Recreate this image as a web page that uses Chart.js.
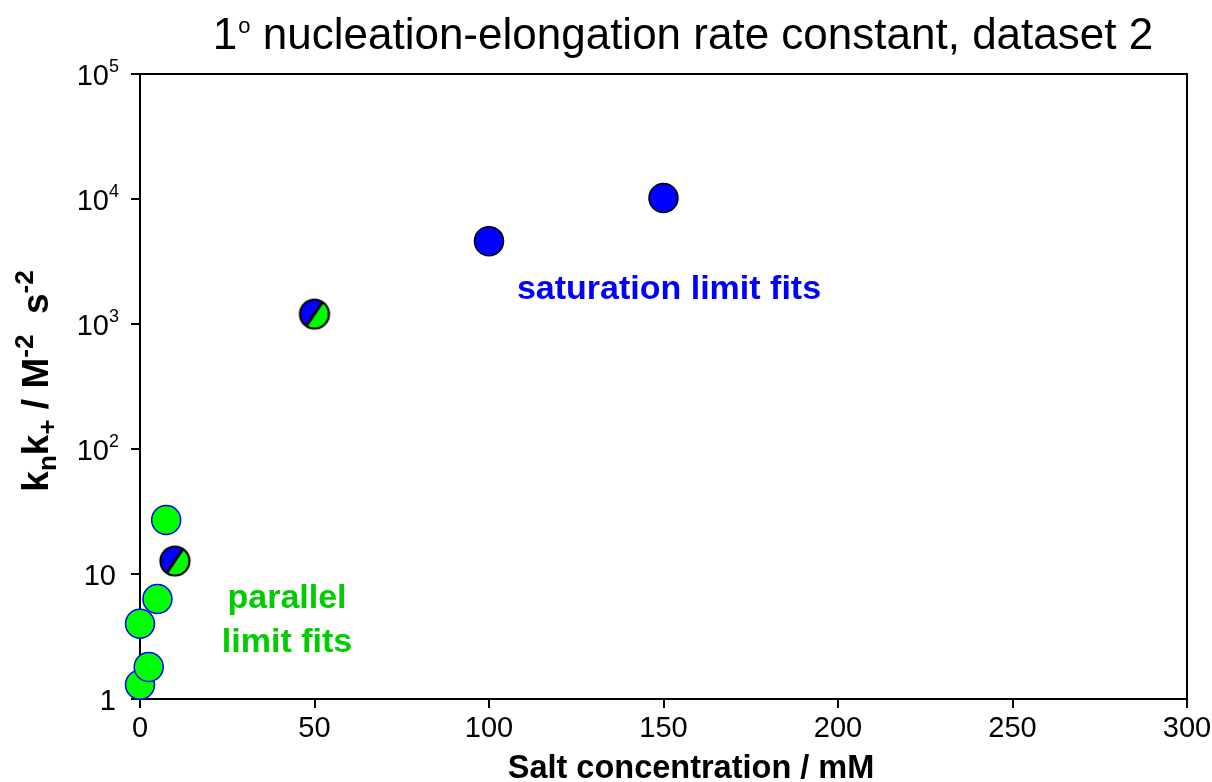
<!DOCTYPE html>
<html>
<head>
<meta charset="utf-8">
<script src="https://cdn.jsdelivr.net/npm/chart.js@4.4.1/dist/chart.umd.min.js"></script>
<style>
  html, body { margin: 0; padding: 0; background: #ffffff; }
  #wrap { width: 1212px; height: 782px; }
</style>
</head>
<body>
<div id="wrap"><canvas id="chart" width="1212" height="782"></canvas></div>
<script>
// Salt concentration (mM) and k_n k_+ (M^-2 s^-2) for each group of fits
const parallelSalt = [0, 0, 2.5, 5, 7.5];
const parallelRate = [1.3, 4.0, 1.8, 6.3, 27];
const bothSalt = [10, 50];
const bothRate = [12.7, 1200];
const saturationSalt = [100, 150];
const saturationRate = [4600, 10200];

// Axis ticks
const xTicks = [0, 50, 100, 150, 200, 250, 300];
const yTicks = [1, 10, 100, 1000, 10000, 100000];
const yTickBase = ['1', '10', '10', '10', '10', '10'];
const yTickExp = ['', '', '2', '3', '4', '5'];

// Text
const titleLead = '1';
const titleSup = 'o';
const titleRest = ' nucleation-elongation rate constant, dataset 2';
const xTitle = 'Salt concentration / mM';
const saturationNote = 'saturation limit fits';
const parallelNote = ['parallel', 'limit fits'];

const FONT = '"Liberation Sans", Arial, Helvetica, sans-serif';
const BLUE = '#0000ff';
const GREEN = '#00ff00';
const GREEN_TEXT = '#00cc00';
const R = 14.5;

// Marker for points fitted by both limits: half blue, half green, split by a diagonal
function splitMarker() {
  const size = 34, c = size / 2;
  const cv = document.createElement('canvas');
  cv.width = size; cv.height = size;
  const g = cv.getContext('2d');
  const ang = -56 * Math.PI / 180; // direction of the dividing line (towards upper right)
  g.beginPath();
  g.arc(c, c, R, ang, ang + Math.PI, true);
  g.closePath();
  g.fillStyle = BLUE; g.fill();
  g.beginPath();
  g.arc(c, c, R, ang, ang + Math.PI, false);
  g.closePath();
  g.fillStyle = GREEN; g.fill();
  g.beginPath();
  g.moveTo(c + R * Math.cos(ang), c + R * Math.sin(ang));
  g.lineTo(c - R * Math.cos(ang), c - R * Math.sin(ang));
  g.lineWidth = 2.5; g.strokeStyle = '#000'; g.stroke();
  g.beginPath();
  g.arc(c, c, R, 0, Math.PI * 2);
  g.lineWidth = 2.2; g.strokeStyle = '#000'; g.stroke();
  return cv;
}

function toPoints(xs, ys) { return xs.map((x, i) => ({ x: x, y: ys[i] })); }

// Draw a run of text pieces with their own font and vertical offset
function drawRuns(ctx, runs, x, y) {
  let cx = x;
  runs.forEach(r => {
    ctx.font = r.font;
    ctx.fillText(r.text, cx, y + (r.dy || 0));
    cx += ctx.measureText(r.text).width + (r.gap || 0);
  });
  return cx - x;
}
function runsWidth(ctx, runs) {
  let w = 0;
  runs.forEach(r => { ctx.font = r.font; w += ctx.measureText(r.text).width + (r.gap || 0); });
  return w;
}

const decorations = {
  id: 'decorations',
  afterDraw(chart) {
    const ctx = chart.ctx;
    const a = chart.chartArea;
    const xs = chart.scales.x, ys = chart.scales.y;
    ctx.save();

    // frame top and right
    ctx.strokeStyle = '#000';
    ctx.lineWidth = 2;
    ctx.beginPath();
    ctx.moveTo(a.left, a.top);
    ctx.lineTo(a.right, a.top);
    ctx.lineTo(a.right, a.bottom);
    ctx.stroke();

    ctx.fillStyle = '#000';
    ctx.textBaseline = 'alphabetic';

    // x tick labels
    ctx.font = '29px ' + FONT;
    ctx.textAlign = 'center';
    xTicks.forEach(v => ctx.fillText(String(v), xs.getPixelForValue(v), 737));

    // y tick labels with exponents
    ctx.textAlign = 'left';
    yTicks.forEach((v, i) => {
      const py = ys.getPixelForValue(v);
      const runs = [{ text: yTickBase[i], font: '29px ' + FONT }];
      let right = 116;
      if (yTickExp[i]) {
        runs.push({ text: yTickExp[i], font: '18px ' + FONT, dy: -13, gap: 1 });
        right = 120;
      }
      const w = runsWidth(ctx, runs);
      drawRuns(ctx, runs, right - w, py + 10.5);
    });

    // chart title
    const tRuns = [
      { text: titleLead, font: '44px ' + FONT, gap: 1 },
      { text: titleSup, font: '22px ' + FONT, dy: -16 },
      { text: titleRest, font: '44px ' + FONT }
    ];
    const tw = runsWidth(ctx, tRuns);
    drawRuns(ctx, tRuns, 683 - tw / 2, 49);

    // x axis title
    ctx.font = 'bold 32.5px ' + FONT;
    ctx.textAlign = 'center';
    ctx.fillText(xTitle, 691, 778);

    // y axis title, rotated
    ctx.textAlign = 'left';
    const B = 'bold 37px ' + FONT, S = 'bold 26px ' + FONT;
    const yRuns = [
      { text: 'k', font: B },
      { text: 'n', font: S, dy: 8 },
      { text: 'k', font: B },
      { text: '+', font: S, dy: 8 },
      { text: ' / M', font: B },
      { text: '-2', font: S, dy: -15 },
      { text: '  s', font: B },
      { text: '-2', font: S, dy: -15 }
    ];
    const yw = runsWidth(ctx, yRuns);
    ctx.translate(48, 381 + yw / 2);
    ctx.rotate(-Math.PI / 2);
    drawRuns(ctx, yRuns, 0, 0);
    ctx.setTransform(1, 0, 0, 1, 0, 0);

    // group notes
    ctx.font = 'bold 34px ' + FONT;
    ctx.textAlign = 'center';
    ctx.fillStyle = BLUE;
    ctx.fillText(saturationNote, 669, 299);
    ctx.fillStyle = GREEN_TEXT;
    ctx.fillText(parallelNote[0], 287, 608);
    ctx.fillText(parallelNote[1], 287, 652);

    ctx.restore();
  }
};

const split = splitMarker();

new Chart(document.getElementById('chart'), {
  type: 'scatter',
  data: {
    datasets: [
      {
        label: 'parallel limit fits',
        data: toPoints(parallelSalt, parallelRate),
        pointRadius: R, pointHoverRadius: R, clip: false,
        backgroundColor: GREEN, borderColor: BLUE, borderWidth: 1.5
      },
      {
        label: 'both limits',
        data: toPoints(bothSalt, bothRate),
        pointStyle: split, pointRadius: R, pointHoverRadius: R, clip: false
      },
      {
        label: 'saturation limit fits',
        data: toPoints(saturationSalt, saturationRate),
        pointRadius: R, pointHoverRadius: R, clip: false,
        backgroundColor: BLUE, borderColor: '#000', borderWidth: 1.5
      }
    ]
  },
  options: {
    responsive: false,
    animation: false,
    devicePixelRatio: 1,
    events: [],
    layout: { padding: { top: 74, right: 25, left: 0, bottom: 0 } },
    plugins: { legend: { display: false }, tooltip: { enabled: false }, title: { display: false } },
    scales: {
      x: {
        type: 'linear', min: 0, max: 300,
        afterBuildTicks: s => { s.ticks = xTicks.map(v => ({ value: v })); },
        afterFit: s => { s.height = 83; },
        ticks: { display: false },
        grid: { drawOnChartArea: false, drawTicks: true, tickLength: 9, color: '#000', lineWidth: 2 },
        border: { display: true, color: '#000', width: 2 }
      },
      y: {
        type: 'logarithmic', min: 1, max: 100000,
        afterBuildTicks: s => { s.ticks = yTicks.map(v => ({ value: v })); },
        afterFit: s => { s.width = 140; },
        ticks: { display: false },
        grid: { drawOnChartArea: false, drawTicks: true, tickLength: 9, color: '#000', lineWidth: 2 },
        border: { display: true, color: '#000', width: 2 }
      }
    }
  },
  plugins: [decorations]
});
</script>
</body>
</html>
